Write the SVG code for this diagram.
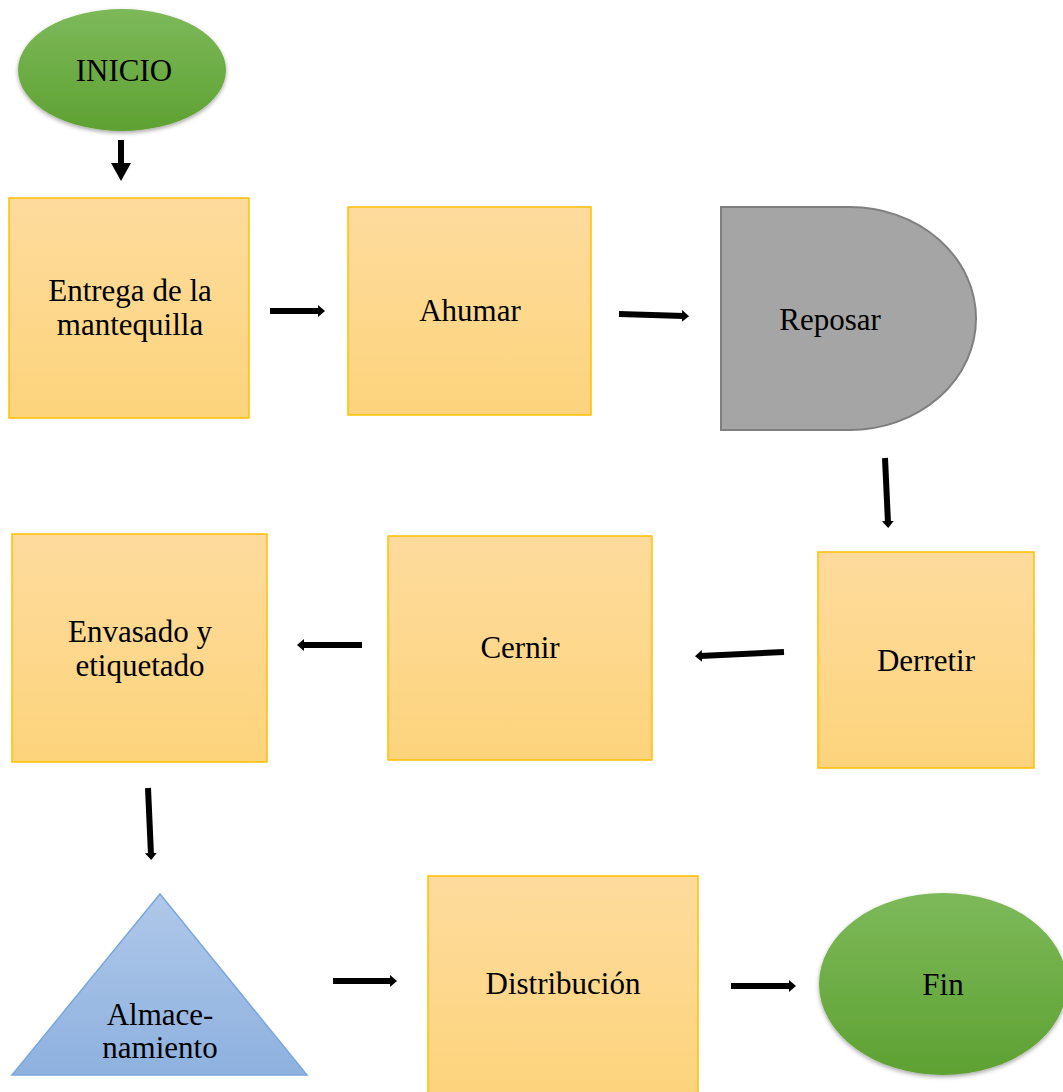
<svg xmlns="http://www.w3.org/2000/svg" width="1063" height="1092" viewBox="0 0 1063 1092">
<style>
.box{fill:url(#gOrange);stroke:#ffc000;stroke-width:1.5}
.t{font-family:"Liberation Serif",serif;font-size:31px;fill:#000;text-anchor:middle}
.c{stroke:#000;stroke-width:6;fill:none;marker-end:url(#ah)}
</style>
<defs>
<linearGradient id="gOrange" x1="0" y1="0" x2="0" y2="1"><stop offset="0" stop-color="#fedb9d"/><stop offset="1" stop-color="#fdd47c"/></linearGradient>
<linearGradient id="gGreen" x1="0" y1="0" x2="0" y2="1"><stop offset="0" stop-color="#7db95a"/><stop offset="1" stop-color="#5ea132"/></linearGradient>
<linearGradient id="gBlue" x1="0" y1="0" x2="0" y2="1"><stop offset="0" stop-color="#afc8e9"/><stop offset="1" stop-color="#8eb1df"/></linearGradient>
<filter id="sh" x="-10%" y="-10%" width="120%" height="130%"><feDropShadow dx="0" dy="2" stdDeviation="2" flood-color="#000" flood-opacity="0.35"/></filter>
<marker id="ah" markerUnits="userSpaceOnUse" markerWidth="12" markerHeight="14" refX="2" refY="7" orient="auto"><path d="M0,1 L7,7 L0,13 Z" fill="#000"/></marker>
<marker id="ahBig" markerUnits="userSpaceOnUse" markerWidth="22" markerHeight="22" refX="2" refY="11" orient="auto"><path d="M0,1 L18,11 L0,21 Z" fill="#000"/></marker>
</defs>
<g id="connectors">
<line x1="121" y1="140" x2="121" y2="165" stroke="#000" stroke-width="6" marker-end="url(#ahBig)"/>
<line class="c" x1="270" y1="311" x2="320" y2="311"/>
<line class="c" x1="619" y1="314" x2="684" y2="316"/>
<line class="c" x1="885" y1="458" x2="888" y2="523"/>
<line class="c" x1="784" y1="652" x2="700" y2="656"/>
<line class="c" x1="362" y1="645" x2="302" y2="645"/>
<line class="c" x1="148" y1="788" x2="151" y2="855"/>
<line class="c" x1="333" y1="981" x2="392" y2="981"/>
<line class="c" x1="731" y1="986" x2="791" y2="986"/>
</g>
<g id="inicio">
<ellipse cx="122" cy="70" rx="104" ry="61" fill="url(#gGreen)" filter="url(#sh)"/>
<text class="t" x="124" y="81">INICIO</text>
</g>
<g id="entrega">
<rect class="box" x="9" y="198" width="240" height="220"/>
<text class="t" x="130" y="301">Entrega de la</text>
<text class="t" x="130" y="335">mantequilla</text>
</g>
<g id="ahumar">
<rect class="box" x="348" y="207" width="243" height="208"/>
<text class="t" x="470" y="321">Ahumar</text>
</g>
<g id="reposar">
<path d="M721,207 L850,207 A126,111.5 0 0 1 850,430 L721,430 Z" fill="#a5a5a5" stroke="#7f7f7f" stroke-width="2"/>
<text class="t" x="830" y="330">Reposar</text>
</g>
<g id="derretir">
<rect class="box" x="818" y="552" width="216" height="216"/>
<text class="t" x="926" y="671">Derretir</text>
</g>
<g id="cernir">
<rect class="box" x="388" y="536" width="264" height="224"/>
<text class="t" x="520" y="658">Cernir</text>
</g>
<g id="envasado">
<rect class="box" x="12" y="534" width="255" height="228"/>
<text class="t" x="140" y="642">Envasado y</text>
<text class="t" x="140" y="676">etiquetado</text>
</g>
<g id="almacenamiento">
<path d="M160,894 L307,1075 L12,1075 Z" fill="url(#gBlue)" stroke="#7aa7dc" stroke-width="1.5"/>
<text class="t" x="160" y="1025">Almace-</text>
<text class="t" x="160" y="1058">namiento</text>
</g>
<g id="distribucion">
<rect class="box" x="428" y="876" width="270" height="220"/>
<text class="t" x="563" y="994">Distribución</text>
</g>
<g id="fin">
<ellipse cx="943" cy="984" rx="124" ry="91" fill="url(#gGreen)" filter="url(#sh)"/>
<text class="t" x="943" y="995">Fin</text>
</g>
</svg>
